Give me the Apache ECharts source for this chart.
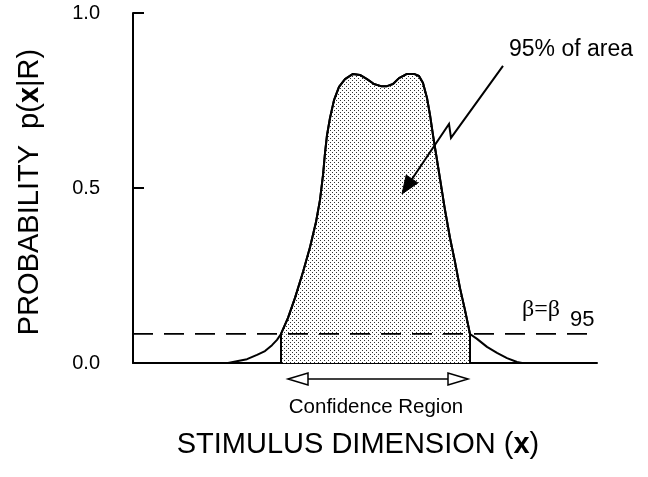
<!DOCTYPE html>
<html><head><meta charset="utf-8">
<script src="https://cdn.jsdelivr.net/npm/echarts@6/dist/echarts.min.js"></script>
<style>html,body{margin:0;padding:0;background:#fff}#c{width:648px;height:477px}</style>
</head><body><div id="c"></div>
<script>
// stimulus dimension (arbitrary units) and probability p(x|R)
const curveX = [23.75, 26.25, 28.5, 31, 33, 34.75, 36, 37, 38.75, 40.5, 42.5, 44.25, 45.75, 46.75, 47.5, 48, 48.5, 49.25, 50.25, 51.5, 53, 55, 56.75, 58.5, 60.25, 62, 63.5, 65, 66.5, 68.5, 70.25, 71.5, 72.5, 73.5, 74.25, 75, 76, 77, 78, 79.25, 80.5, 81.75, 83, 84.25, 86, 88.5, 91, 93.5, 96, 97.25];
const curveY = [0, 0.006, 0.011, 0.023, 0.034, 0.051, 0.066, 0.083, 0.129, 0.186, 0.26, 0.331, 0.403, 0.466, 0.537, 0.6, 0.651, 0.7, 0.751, 0.789, 0.811, 0.826, 0.823, 0.811, 0.797, 0.791, 0.791, 0.797, 0.814, 0.826, 0.826, 0.82, 0.8, 0.757, 0.709, 0.651, 0.58, 0.509, 0.437, 0.357, 0.289, 0.214, 0.151, 0.083, 0.069, 0.046, 0.029, 0.014, 0.003, 0];
const betaLevel = 0.083;
const regionStart = 37, regionEnd = 84.25;
const arrowLeft = 38.75, arrowRight = 83.75;
const xMin = 0, xMax = 116;
const yTicks = [0, 0.5, 1.0];
const calloutPath = [[92.5, 0.849], [79.5, 0.643], [79, 0.683], [67.25, 0.483]];

const FONT = 'Liberation Sans, Arial, Helvetica, sans-serif';
const curve = curveX.map((x, i) => [x, curveY[i]]);
const region = [[regionStart, 0]].concat(curve.filter(p => p[0] >= regionStart && p[0] <= regionEnd)).concat([[regionEnd, 0]]);

const pat = document.createElement('canvas');
pat.width = 4; pat.height = 4;
const g = pat.getContext('2d');
g.fillStyle = '#fff'; g.fillRect(0, 0, 4, 4);
g.fillStyle = '#333'; g.fillRect(0, 0, 1, 1); g.fillRect(2, 2, 1, 1);

const chart = echarts.init(document.getElementById('c'), null, {renderer: 'canvas'});
chart.setOption({
  animation: false,
  backgroundColor: '#fff',
  grid: {left: 133, right: 51, top: 13, bottom: 114, containLabel: false},
  xAxis: {type: 'value', min: xMin, max: xMax, axisLine: {show: true, onZero: false, lineStyle: {color: '#000', width: 2}},
    axisTick: {show: false}, axisLabel: {show: false}, splitLine: {show: false}},
  yAxis: {type: 'value', min: yTicks[0], max: yTicks[yTicks.length - 1], interval: 0.5,
    axisLine: {show: true, lineStyle: {color: '#000', width: 2}},
    axisTick: {show: true, inside: true, length: 11, lineStyle: {color: '#000', width: 2}},
    splitLine: {show: false},
    axisLabel: {formatter: v => v.toFixed(1), fontSize: 20, color: '#000', margin: 33, fontFamily: FONT}},
  series: [
    {type: 'line', data: region, symbol: 'none', lineStyle: {color: '#000', width: 2},
      areaStyle: {color: {image: pat, repeat: 'repeat'}, opacity: 1}, z: 2},
    {type: 'line', data: curve, symbol: 'none', lineStyle: {color: '#000', width: 2}, z: 3},
    {type: 'line', data: [[xMin, betaLevel], [xMax, betaLevel]], symbol: 'none',
      lineStyle: {color: '#000', width: 1.8, type: [20, 11]}, z: 4}
  ]
});

const px = p => chart.convertToPixel({xAxisIndex: 0, yAxisIndex: 0}, p);
const pts = calloutPath.map(px);
const tip = pts[pts.length - 1], prev = pts[pts.length - 2];
let dx = tip[0] - prev[0], dy = tip[1] - prev[1];
const len = Math.hypot(dx, dy); dx /= len; dy /= len;
const HL = 18, HW = 7;
const base = [tip[0] - HL * dx, tip[1] - HL * dy];
const nx = -dy, ny = dx;
const linePts = pts.slice(0, -1).concat([base]);

const axisY = px([0, 0])[1];
const aY = axisY + 16;
const aL = px([arrowLeft, 0])[0], aR = px([arrowRight, 0])[0];
const TL = 20, TW = 6;

chart.setOption({
  graphic: [
    {type: 'polyline', shape: {points: linePts}, style: {stroke: '#000', lineWidth: 2, fill: null}, z: 10},
    {type: 'polygon', shape: {points: [tip, [base[0] + HW * nx, base[1] + HW * ny], [base[0] - HW * nx, base[1] - HW * ny]]},
      style: {fill: '#000', stroke: '#000', lineWidth: 1}, z: 10},
    {type: 'line', shape: {x1: aL + TL, y1: aY, x2: aR - TL, y2: aY}, style: {stroke: '#000', lineWidth: 1.5}, z: 10},
    {type: 'polygon', shape: {points: [[aL, aY], [aL + TL, aY - TW], [aL + TL, aY + TW]]}, style: {fill: '#fff', stroke: '#000', lineWidth: 1.5}, z: 10},
    {type: 'polygon', shape: {points: [[aR, aY], [aR - TL, aY - TW], [aR - TL, aY + TW]]}, style: {fill: '#fff', stroke: '#000', lineWidth: 1.5}, z: 10},
    {type: 'text', x: 376, y: 407, style: {text: 'Confidence Region', font: '20.5px ' + FONT, fill: '#000', textAlign: 'center', textVerticalAlign: 'middle'}, z: 10},
    {type: 'text', x: 358, y: 445, style: {text: 'STIMULUS DIMENSION ({b|x})', font: '29px ' + FONT, fill: '#000', textAlign: 'center', textVerticalAlign: 'middle',
      rich: {b: {fontWeight: 'bold', fontSize: 29, fontFamily: FONT}}}, z: 10},
    {type: 'text', x: 30, y: 192, rotation: Math.PI / 2, style: {text: 'PROBABILITY  p({b|x}|R)', font: '29px ' + FONT, fill: '#000', textAlign: 'center', textVerticalAlign: 'middle',
      rich: {b: {fontWeight: 'bold', fontSize: 29, fontFamily: FONT}}}, z: 10},
    {type: 'text', x: 571, y: 50, style: {text: '95% of area', font: '23px ' + FONT, fill: '#000', textAlign: 'center', textVerticalAlign: 'middle'}, z: 10},
    {type: 'text', x: 522, y: 310, style: {text: 'β=β', font: '24px Liberation Serif, serif', fill: '#000', textAlign: 'left', textVerticalAlign: 'middle'}, z: 10},
    {type: 'text', x: 570, y: 320, style: {text: '95', font: '22px ' + FONT, fill: '#000', textAlign: 'left', textVerticalAlign: 'middle'}, z: 10}
  ]
});
</script></body></html>
